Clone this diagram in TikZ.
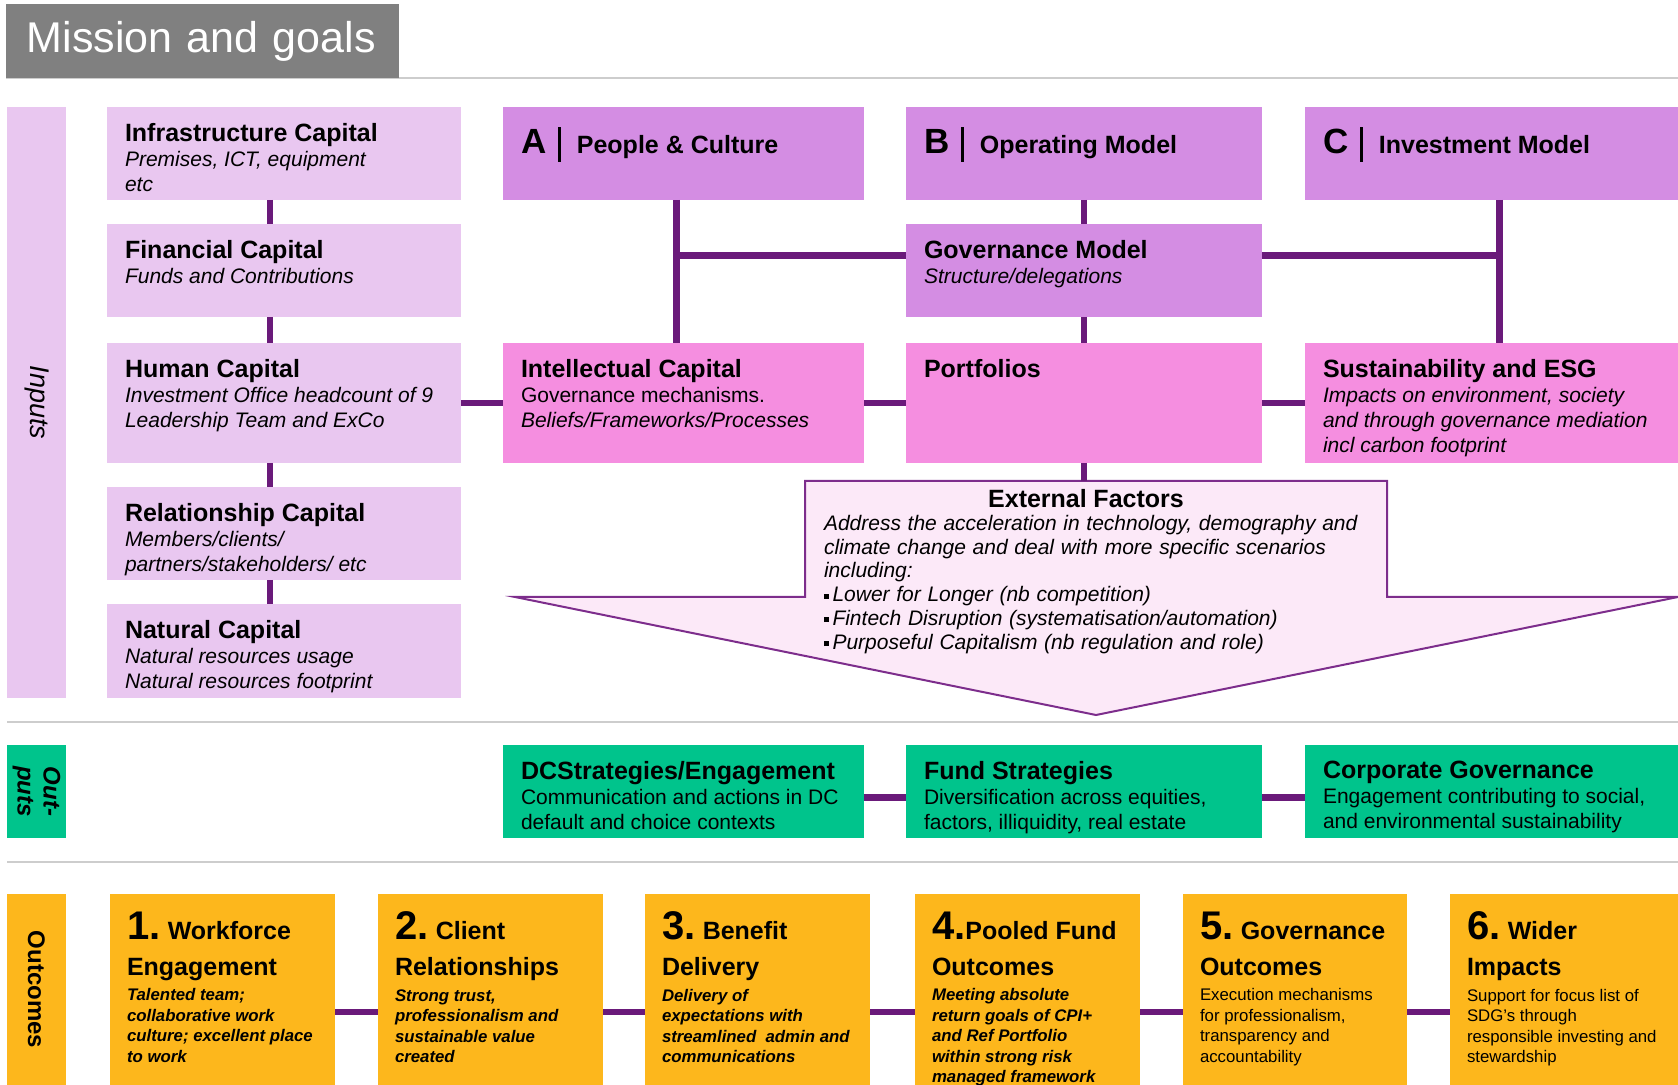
\documentclass[tikz,border=0pt]{standalone}
\usepackage{fontspec}
\setmainfont{Liberation Sans}
\usetikzlibrary{calc}
\definecolor{capLight}{RGB}{233,199,240}
\definecolor{modelPurple}{RGB}{212,141,227}
\definecolor{capPink}{RGB}{245,142,224}
\definecolor{extFill}{RGB}{252,233,248}
\definecolor{extLine}{RGB}{125,45,140}
\definecolor{linkPurple}{RGB}{106,26,122}
\definecolor{outGreen}{RGB}{0,196,140}
\definecolor{outGold}{RGB}{253,183,28}
\definecolor{titleGray}{RGB}{128,128,128}
\definecolor{ruleGray}{RGB}{205,205,205}

\newcommand{\hd}{\fontsize{12.5}{12.5}\selectfont\bfseries}
\newcommand{\subtxt}{\fontsize{10.5}{12.5}\selectfont\mdseries\upshape}
\newcommand{\ohd}{\fontsize{12.5}{18}\selectfont\bfseries}
\newcommand{\osub}{\fontsize{8.4}{10.2}\selectfont\mdseries\upshape}
\newcommand{\bignum}[1]{{\fontsize{20}{20}\selectfont\bfseries #1}}
\newcommand{\sqbullet}{\rule[1.5pt]{2.5pt}{2.5pt}\,}
\newcommand{\modelhead}[1]{\rule{0pt}{15.5pt}{\fontsize{17.5}{17.5}\selectfont\bfseries #1}\hspace{6pt}\rule[-4pt]{1.3pt}{17.5pt}\hspace{8pt}}
\newcommand{\boxtxt}[3]{\parbox[c][\dimexpr 0.5pt*#2-\pgfkeysvalueof{/pgf/inner ysep}-\pgfkeysvalueof{/pgf/inner ysep}\relax][t]{\dimexpr 0.5pt*#1-\pgfkeysvalueof{/pgf/inner xsep}-\pgfkeysvalueof{/pgf/inner xsep}\relax}{\raggedright #3}}

\begin{document}
\begin{tikzpicture}[x=0.5pt, y=-0.5pt,
  every node/.style={inner sep=0pt, outer sep=0pt},
  capbox/.style={anchor=north west, inner xsep=9pt, inner ysep=8pt, fill=#1},
  goalbox/.style={capbox=outGold, inner xsep=8.5pt, inner ysep=9pt},
  sidebar/.style={fill=#1, rotate=-90, align=center},
  link/.style={draw=linkPurple, line width=3.2pt},
  seprule/.style={draw=ruleGray, line width=1pt}]

\useasboundingbox (0,0) rectangle (1678,1085);
\clip (0,0) rectangle (1678,1085);

% Title
\draw [seprule] (6,78) -- (1678,78);
\node (title) [anchor=north west, fill=titleGray, text=white, minimum width=196.5pt, minimum height=37pt,
  text width=178pt, inner xsep=9.25pt, font=\fontsize{21.5}{21.5}\selectfont] at (6,4) {\hspace{1.2pt}Mission and goals};

% Inputs
\node (inbar) [sidebar=capLight, minimum width=295.5pt, minimum height=29.5pt, font=\fontsize{13.5}{13.5}\selectfont\itshape] at (36.5,402.5) {Inputs};
\node (infra) [capbox=capLight] at (107,107) {\boxtxt{354}{93}{\hd Infrastructure Capital\par\subtxt\itshape Premises, ICT, equipment\\etc}};
\node (fin) [capbox=capLight] at (107,224) {\boxtxt{354}{93}{\hd Financial Capital\par\subtxt\itshape Funds and Contributions}};
\node (human) [capbox=capLight] at (107,343) {\boxtxt{354}{120}{\hd Human Capital\par\subtxt\itshape Investment Office headcount of 9\\Leadership Team and ExCo}};
\node (rel) [capbox=capLight] at (107,487) {\boxtxt{354}{93}{\hd Relationship Capital\par\subtxt\itshape Members/clients/\\partners/stakeholders/ etc}};
\node (nat) [capbox=capLight] at (107,604) {\boxtxt{354}{94}{\hd Natural Capital\par\subtxt\itshape Natural resources usage\\Natural resources footprint}};
\foreach \a/\b in {infra/fin, fin/human, human/rel, rel/nat} {
    \draw [link] ([xshift=-7pt]\a.south) -- ([xshift=-7pt]\b.north);
}

% Models
\node (A) [capbox=modelPurple] at (503,107) {\boxtxt{361}{93}{\modelhead{A}\hd People \& Culture}};
\node (B) [capbox=modelPurple] at (906,107) {\boxtxt{356}{93}{\modelhead{B}\hd Operating Model}};
\node (C) [capbox=modelPurple] at (1305,107) {\boxtxt{373}{93}{\modelhead{C}\hd Investment Model}};
\node (gov) [capbox=modelPurple] at (906,224) {\boxtxt{356}{93}{\hd Governance Model\par\subtxt\itshape Structure/delegations}};

% Capitals
\node (intel) [capbox=capPink] at (503,343) {\boxtxt{361}{120}{\hd Intellectual Capital\par\subtxt Governance mechanisms.\\\itshape Beliefs/Frameworks/Processes}};
\node (port) [capbox=capPink] at (906,343) {\boxtxt{356}{120}{\hd Portfolios}};
\node (sust) [capbox=capPink] at (1305,343) {\boxtxt{373}{120}{\hd Sustainability and ESG\par\subtxt\itshape Impacts on environment, society\\and through governance mediation\\incl carbon footprint}};

\coordinate (aSpine) at ([xshift=-3.5pt]A.south);
\coordinate (cSpine) at ([xshift=4pt]C.south);
\coordinate (govL) at ([yshift=7.5pt]gov.west);
\coordinate (govR) at ([yshift=7.5pt]gov.east);
\draw [link] (aSpine) -- (aSpine |- intel.north);
\draw [link] (cSpine) -- (cSpine |- sust.north);
\draw [link] (govL) -- (govL -| aSpine);
\draw [link] (govR) -- (govR -| cSpine);
\draw [link] (B.south) -- (gov.north);
\draw [link] (gov.south) -- (port.north);
\draw [link] (human.east) -- (intel.west);
\draw [link] (intel.east) -- (port.west);
\draw [link] (port.east) -- (sust.west);

% External factors
\draw [extLine, fill=extFill, line width=1pt] (805,481) -- (1387,481) -- (1387,597) -- (1678,597)
    -- (1096,715) -- (515,597) -- (805,597) -- cycle;
\node (ext) [anchor=north west, inner xsep=9.5pt, inner ysep=4pt, text width=272pt, align=left] at (805,481)
    {{\centering\hd External Factors\hspace*{10pt}\par}\fontsize{10.5}{11.8}\selectfont\itshape
     Address the acceleration in technology, demography and\\climate change and deal with more specific scenarios\\including:\\
     \sqbullet Lower for Longer (nb competition)\\\sqbullet Fintech Disruption (systematisation/automation)\\\sqbullet Purposeful Capitalism (nb regulation and role)};
\draw [link] (port.south) -- (port.south |- ext.north);

% Outputs
\draw [seprule] (7,722) -- (1678,722);
\node (outbar) [sidebar=outGreen, minimum width=46.5pt, minimum height=29.5pt, font=\fontsize{12}{13}\selectfont\bfseries\itshape] at (36.5,791.5) {Out-\\puts};
\node (dc) [capbox=outGreen] at (503,745) {\boxtxt{361}{93}{\hd DCStrategies/Engagement\par\subtxt Communication and actions in DC\\default and choice contexts}};
\node (fund) [capbox=outGreen] at (906,745) {\boxtxt{356}{93}{\hd Fund Strategies\par\subtxt Diversification across equities,\\factors, illiquidity, real estate}};
\node (corp) [capbox=outGreen] at (1305,745) {\boxtxt{373}{93}{\hd Corporate Governance\par\subtxt Engagement contributing to social,\\and environmental sustainability}};
\draw [link] ([yshift=-3pt]dc.east) -- ([yshift=-3pt]fund.west);
\draw [link] ([yshift=-3pt]fund.east) -- ([yshift=-3pt]corp.west);

% Outcomes
\draw [seprule] (7,862) -- (1678,862);
\node (outcbar) [sidebar=outGold, minimum width=95.5pt, minimum height=29.5pt, font=\fontsize{12}{12}\selectfont\bfseries] at (36.5,989.5) {Outcomes};
\node (o1) [goalbox] at (110,894) {\boxtxt{225}{236}{\bignum{1.} \ohd Workforce\\Engagement\par\vspace{2.5pt}\osub\bfseries\itshape
    Talented team;\\collaborative work\\culture; excellent place\\to work}};
\node (o2) [goalbox] at (378,894) {\boxtxt{225}{236}{\bignum{2.} \ohd Client\\Relationships\par\vspace{2.5pt}\osub\bfseries\itshape
    Strong trust,\\professionalism and\\sustainable value\\created}};
\node (o3) [goalbox] at (645,894) {\boxtxt{225}{236}{\bignum{3.} \ohd Benefit\\Delivery\par\vspace{2.5pt}\osub\bfseries\itshape
    Delivery of\\expectations with\\streamlined~ admin and\\communications}};
\node (o4) [goalbox] at (915,894) {\boxtxt{225}{236}{\bignum{4.}\ohd Pooled Fund\\Outcomes\par\vspace{2.5pt}\osub\bfseries\itshape
    Meeting absolute\\return goals of CPI+\\and Ref Portfolio\\within strong risk\\managed framework}};
\node (o5) [goalbox] at (1183,894) {\boxtxt{224}{236}{\bignum{5.} \ohd Governance\\Outcomes\par\vspace{2.5pt}\osub
    Execution mechanisms\\for professionalism,\\transparency and\\accountability}};
\node (o6) [goalbox] at (1450,894) {\boxtxt{228}{236}{\bignum{6.} \ohd Wider\\Impacts\par\vspace{2.5pt}\osub
    Support for focus list of\\SDG’s through\\responsible investing and\\stewardship}};
\foreach \a/\b in {o1/o2, o2/o3, o3/o4, o4/o5, o5/o6} {
    \draw [link] (\a.east) -- (\b.west);
}

\end{tikzpicture}
\end{document}
